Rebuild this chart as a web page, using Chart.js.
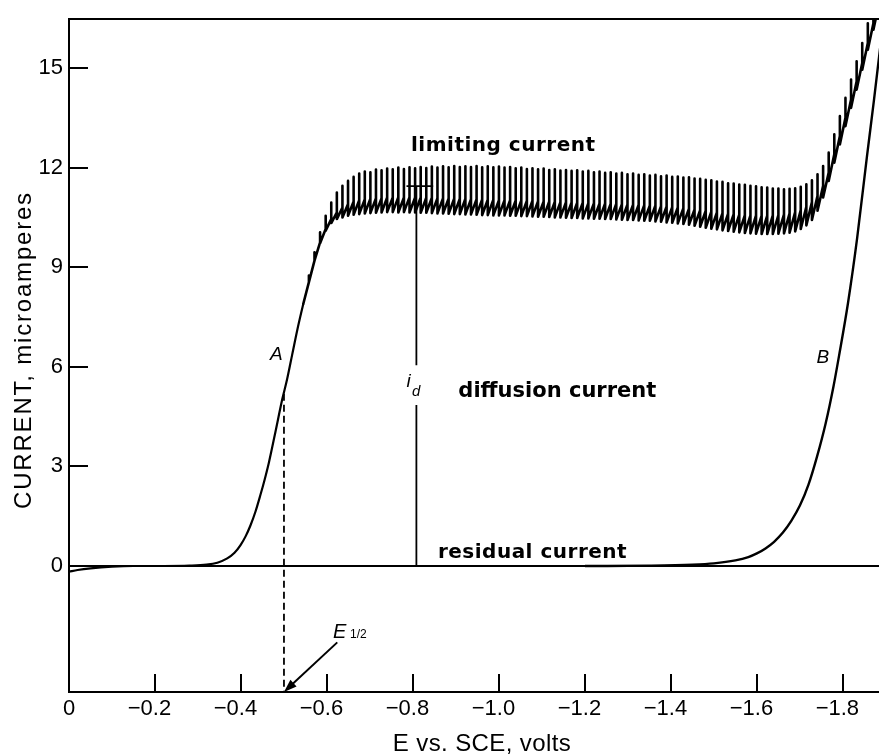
<!DOCTYPE html>
<html>
<head>
<meta charset="utf-8">
<script src="https://cdn.jsdelivr.net/npm/chart.js@4.4.1/dist/chart.umd.min.js"></script>
<style>
  html, body { margin: 0; padding: 0; background: #fff; }
  canvas { display: block; }
</style>
</head>
<body>
<canvas id="polarogram" width="879" height="756" style="width:879px;height:756px"></canvas>
<script>
// Polarogram: wave A of the reducible species (with dropping-mercury oscillations)
// and curve B of the supporting electrolyte alone.

const xTicks = [0, -0.2, -0.4, -0.6, -0.8, -1.0, -1.2, -1.4, -1.6, -1.8];
const yTicks = [0, 3, 6, 9, 12, 15];
const E_MIN = -1.884;
const I_MIN = -3.795;
const I_MAX = 16.47;

// wave A, smooth foot of the wave (volts, microamperes)
const waveE = [0, -0.02, -0.05, -0.10, -0.15, -0.22, -0.28, -0.32, -0.345, -0.368, -0.385, -0.399,
  -0.411, -0.422, -0.434, -0.445, -0.455, -0.465, -0.480, -0.496, -0.507, -0.519, -0.531, -0.545];
const waveI = [-0.17, -0.12, -0.07, -0.02, 0.0, 0.0, 0.01, 0.04, 0.10, 0.23, 0.40, 0.63,
  0.90, 1.22, 1.65, 2.13, 2.60, 3.12, 4.03, 5.02, 5.61, 6.36, 7.11, 7.90];

// wave A, one entry per mercury drop: potential at each drop fall,
// current at drop birth, at end of growth, and the pen spike
const dropE = [
  -0.545, -0.558, -0.571, -0.584, -0.597, -0.610, -0.623, -0.636, -0.649, -0.662,
  -0.675, -0.688, -0.701, -0.714, -0.727, -0.740, -0.753, -0.766, -0.779, -0.792,
  -0.805, -0.818, -0.831, -0.844, -0.857, -0.870, -0.883, -0.896, -0.909, -0.922,
  -0.935, -0.948, -0.961, -0.974, -0.987, -1.000, -1.013, -1.026, -1.039, -1.052,
  -1.065, -1.078, -1.091, -1.104, -1.117, -1.130, -1.143, -1.156, -1.169, -1.182,
  -1.195, -1.208, -1.221, -1.234, -1.247, -1.260, -1.273, -1.286, -1.299, -1.312,
  -1.325, -1.338, -1.351, -1.364, -1.377, -1.390, -1.403, -1.416, -1.429, -1.442,
  -1.455, -1.468, -1.481, -1.494, -1.507, -1.520, -1.533, -1.546, -1.559, -1.572,
  -1.585, -1.598, -1.611, -1.624, -1.637, -1.650, -1.663, -1.676, -1.689, -1.702,
  -1.715, -1.728, -1.741, -1.754, -1.767, -1.780, -1.793, -1.806, -1.819, -1.832,
  -1.845, -1.858, -1.871, -1.884];
const dropLow = [
  7.90, 8.55, 9.20, 9.72, 10.10, 10.33, 10.45, 10.50, 10.55, 10.58,
  10.60, 10.62, 10.63, 10.64, 10.65, 10.66, 10.66, 10.65, 10.66, 10.65,
  10.65, 10.64, 10.64, 10.63, 10.62, 10.62, 10.61, 10.60, 10.60, 10.59,
  10.59, 10.58, 10.57, 10.57, 10.56, 10.56, 10.56, 10.55, 10.55, 10.54,
  10.54, 10.53, 10.52, 10.52, 10.51, 10.50, 10.50, 10.49, 10.48, 10.48,
  10.47, 10.47, 10.46, 10.46, 10.45, 10.45, 10.44, 10.43, 10.42, 10.42,
  10.41, 10.40, 10.40, 10.38, 10.37, 10.35, 10.34, 10.32, 10.30, 10.28,
  10.25, 10.22, 10.19, 10.16, 10.14, 10.11, 10.09, 10.07, 10.05, 10.03,
  10.02, 10.01, 10.00, 10.00, 10.00, 10.01, 10.02, 10.04, 10.08, 10.15,
  10.26, 10.42, 10.70, 11.10, 11.60, 12.15, 12.70, 13.25, 13.80, 14.35,
  14.95, 15.55, 16.15];
const dropMid = [
  8.55, 9.20, 9.75, 10.15, 10.45, 10.65, 10.80, 10.90, 10.98, 11.02,
  11.05, 11.06, 11.08, 11.08, 11.10, 11.10, 11.11, 11.10, 11.11, 11.10,
  11.10, 11.09, 11.09, 11.08, 11.08, 11.07, 11.07, 11.06, 11.06, 11.05,
  11.05, 11.04, 11.03, 11.03, 11.02, 11.02, 11.02, 11.01, 11.01, 11.00,
  11.00, 10.99, 10.98, 10.98, 10.97, 10.96, 10.96, 10.95, 10.94, 10.94,
  10.93, 10.93, 10.92, 10.92, 10.91, 10.91, 10.90, 10.89, 10.88, 10.88,
  10.87, 10.86, 10.86, 10.84, 10.83, 10.81, 10.80, 10.78, 10.76, 10.74,
  10.72, 10.70, 10.67, 10.65, 10.63, 10.61, 10.60, 10.58, 10.57, 10.56,
  10.56, 10.55, 10.55, 10.56, 10.57, 10.59, 10.62, 10.66, 10.72, 10.82,
  10.96, 11.15, 11.45, 11.85, 12.40, 12.95, 13.50, 14.05, 14.60, 15.15,
  15.75, 16.35, 16.95];
const dropPeak = [
  8.75, 9.45, 10.05, 10.55, 10.95, 11.25, 11.45, 11.60, 11.72, 11.82,
  11.88, 11.86, 11.94, 11.92, 11.97, 11.95, 12.00, 11.96, 12.01, 11.98,
  12.02, 11.99, 12.03, 12.00, 12.04, 12.01, 12.05, 12.02, 12.04, 12.02,
  12.05, 12.01, 12.04, 12.01, 12.03, 12.00, 12.02, 11.98, 12.00, 11.96,
  11.98, 11.95, 11.97, 11.93, 11.95, 11.91, 11.93, 11.90, 11.92, 11.88,
  11.90, 11.86, 11.88, 11.84, 11.86, 11.82, 11.84, 11.80, 11.82, 11.78,
  11.80, 11.76, 11.78, 11.74, 11.76, 11.72, 11.73, 11.70, 11.71, 11.67,
  11.66, 11.63, 11.62, 11.58, 11.57, 11.53, 11.52, 11.49, 11.48, 11.45,
  11.44, 11.41, 11.40, 11.37, 11.37, 11.35, 11.36, 11.38, 11.42, 11.50,
  11.62, 11.80, 12.05, 12.45, 13.00, 13.55, 14.10, 14.65, 15.20, 15.75,
  16.35, 16.95, 17.55];

// curve B, supporting electrolyte
const blankE = [-1.20, -1.35, -1.45, -1.50, -1.55, -1.58, -1.60, -1.62, -1.64, -1.66,
  -1.68, -1.70, -1.72, -1.74, -1.76, -1.778, -1.792, -1.812, -1.833, -1.856, -1.872, -1.892];
const blankI = [0, 0.01, 0.04, 0.08, 0.17, 0.27, 0.38, 0.53, 0.73, 1.00,
  1.36, 1.82, 2.45, 3.30, 4.30, 5.40, 6.40, 7.93, 9.86, 12.34, 14.00, 16.20];

// zero-current line
const zeroE = [0, -1.884];
const zeroI = [0, 0];

// half-wave potential and the diffusion-current marker
const halfWaveE = -0.50;
const halfWaveI = 5.19;
const idE = -0.808;
const idTop = 11.44;
const idGap = [4.85, 6.05];
const idBarE = [-0.785, -0.847];

// ---- build point tables ----
const pts = (xs, ys) => xs.map((x, k) => ({ x, y: ys[k] }));

const dropTrace = [];
for (let k = 0; k < dropLow.length; k++) {
  dropTrace.push({ x: dropE[k], y: dropLow[k] });
  dropTrace.push({ x: dropE[k + 1], y: dropMid[k] });
  dropTrace.push({ x: dropE[k + 1], y: dropPeak[k] });
}

const trace = (data, extra) => Object.assign({
  data, showLine: true, fill: false, borderColor: '#000', backgroundColor: '#000',
  borderWidth: 2.2, pointRadius: 0, pointHoverRadius: 0, tension: 0
}, extra || {});

// ---- text and arrow drawn through the scales ----
const notes = [
  { text: 'limiting current', e: -1.010, i: 12.51, font: 'bold 20px "DejaVu Sans"', align: 'center', spacing: '0.5px' },
  { text: 'diffusion current', e: -0.9056, i: 5.10, font: 'bold 21px "DejaVu Sans"', align: 'left', spacing: '0px' },
  { text: 'residual current', e: -0.858, i: 0.25, font: 'bold 20px "DejaVu Sans"', align: 'left', spacing: '0.5px' },
  { text: 'A', e: -0.4676, i: 6.20, font: 'italic 19px "Liberation Sans"', align: 'left' },
  { text: 'B', e: -1.768, i: 6.12, font: 'italic 19px "Liberation Sans"', align: 'right' },
  { text: 'i', e: -0.785, i: 5.40, font: 'italic 19px "Liberation Sans"', align: 'left' },
  { text: 'd', e: -0.7977, i: 5.12, font: 'italic 15px "Liberation Sans"', align: 'left' },
  { text: 'E', e: -0.614, i: -2.16, font: 'italic 20px "Liberation Sans"', align: 'left' },
  { text: '1/2', e: -0.6535, i: -2.16, font: '12px "Liberation Sans"', align: 'left' }
];
const halfWaveArrow = { fromE: -0.624, fromI: -2.30, toE: -0.50, toI: I_MIN };
const titleFont = '24px "Liberation Sans", Arial, sans-serif';
const xTitle = { text: 'E vs. SCE, volts', cx: 482, cy: 744, spacing: '0.4px' };
const yTitle = { text: 'CURRENT, microamperes', cx: 24, cy: 350, spacing: '1.8px' };

const frameMarks = {
  id: 'frameMarks',
  beforeDatasetsDraw(chart) {
    const { ctx, chartArea: a, scales: { x, y } } = chart;
    ctx.save();
    ctx.strokeStyle = '#000';
    ctx.lineWidth = 2;
    ctx.beginPath();
    xTicks.forEach(v => {
      if (v === 0) return;
      const px = Math.round(x.getPixelForValue(v));
      ctx.moveTo(px, a.bottom);
      ctx.lineTo(px, a.bottom - 18);
    });
    yTicks.forEach(v => {
      const py = Math.round(y.getPixelForValue(v));
      ctx.moveTo(a.left, py);
      ctx.lineTo(a.left + 19, py);
    });
    ctx.stroke();
    ctx.restore();
  },
  afterDatasetsDraw(chart) {
    const { ctx, scales: { x, y } } = chart;
    const hasSpacing = 'letterSpacing' in ctx;
    ctx.save();
    ctx.fillStyle = '#000';
    ctx.textBaseline = 'alphabetic';
    notes.forEach(n => {
      ctx.font = n.font;
      ctx.textAlign = n.align;
      if (hasSpacing) ctx.letterSpacing = n.spacing || '0px';
      ctx.fillText(n.text, x.getPixelForValue(n.e), y.getPixelForValue(n.i));
    });

    // axis titles
    ctx.font = titleFont;
    ctx.textAlign = 'center';
    ctx.textBaseline = 'middle';
    if (hasSpacing) ctx.letterSpacing = xTitle.spacing;
    ctx.fillText(xTitle.text, xTitle.cx, xTitle.cy);
    ctx.save();
    ctx.translate(yTitle.cx, yTitle.cy);
    ctx.rotate(-Math.PI / 2);
    if (hasSpacing) ctx.letterSpacing = yTitle.spacing;
    ctx.fillText(yTitle.text, 0, 0);
    ctx.restore();
    if (hasSpacing) ctx.letterSpacing = '0px';

    // arrow pointing at the half-wave potential
    const x0 = x.getPixelForValue(halfWaveArrow.fromE), y0 = y.getPixelForValue(halfWaveArrow.fromI);
    const x1 = x.getPixelForValue(halfWaveArrow.toE), y1 = y.getPixelForValue(halfWaveArrow.toI);
    const ang = Math.atan2(y1 - y0, x1 - x0);
    const c = Math.cos(ang), s = Math.sin(ang);
    ctx.strokeStyle = '#000';
    ctx.lineWidth = 2;
    ctx.beginPath();
    ctx.moveTo(x0, y0);
    ctx.lineTo(x1 - 8 * c, y1 - 8 * s);
    ctx.stroke();
    ctx.beginPath();
    ctx.moveTo(x1, y1);
    ctx.lineTo(x1 - 13 * c + 4.5 * s, y1 - 13 * s - 4.5 * c);
    ctx.lineTo(x1 - 13 * c - 4.5 * s, y1 - 13 * s + 4.5 * c);
    ctx.closePath();
    ctx.fill();
    ctx.restore();
  }
};

const axisFont = { family: '"Liberation Sans", Arial, Helvetica, sans-serif', size: 22 };

new Chart(document.getElementById('polarogram'), {
  type: 'scatter',
  data: {
    datasets: [
      trace(pts(zeroE, zeroI)),
      trace(pts(blankE, blankI), { cubicInterpolationMode: 'monotone', borderWidth: 2.4 }),
      trace(pts(waveE, waveI), { cubicInterpolationMode: 'monotone' }),
      trace(dropTrace, { borderWidth: 2.6, borderJoinStyle: 'round', borderCapStyle: 'round' }),
      trace([{ x: idE, y: 0 }, { x: idE, y: idGap[0] }], { borderWidth: 1.8 }),
      trace([{ x: idE, y: idGap[1] }, { x: idE, y: idTop }], { borderWidth: 1.8 }),
      trace([{ x: idBarE[0], y: idTop }, { x: idBarE[1], y: idTop }], { borderWidth: 1.8 }),
      trace([{ x: halfWaveE, y: halfWaveI }, { x: halfWaveE, y: I_MIN }], { borderWidth: 1.8, borderDash: [7, 4] })
    ]
  },
  options: {
    responsive: false,
    animation: false,
    devicePixelRatio: 1,
    layout: { padding: { top: 11, right: 0, bottom: 0, left: 0 } },
    plugins: { legend: { display: false }, tooltip: { enabled: false } },
    events: [],
    scales: {
      x: {
        type: 'linear', position: 'bottom', reverse: true, min: E_MIN, max: 0,
        grid: { display: false, drawTicks: false },
        border: { display: true, color: '#000', width: 2 },
        afterBuildTicks: s => { s.ticks = xTicks.map(v => ({ value: v })); },
        afterFit: s => { s.height = 64; },
        ticks: {
          color: '#000', padding: 4, maxRotation: 0, autoSkip: false, font: axisFont,
          callback: v => (v === 0 ? '0' : '\u2212' + Math.abs(v).toFixed(1) + '\u2002')
        },
        title: { display: false }
      },
      frameTop: {
        type: 'linear', axis: 'x', position: 'top', min: 0, max: 1,
        grid: { display: false, drawTicks: false },
        border: { display: true, color: '#000', width: 2 },
        ticks: { display: false },
        afterFit: s => { s.height = 0; }
      },
      y: {
        type: 'linear', position: 'left', min: I_MIN, max: I_MAX,
        grid: { display: false, drawTicks: false },
        border: { display: true, color: '#000', width: 2 },
        afterBuildTicks: s => { s.ticks = yTicks.map(v => ({ value: v })); },
        afterFit: s => { s.width = 69; },
        ticks: { color: '#000', padding: 6, autoSkip: false, font: axisFont, callback: v => String(v) },
        title: { display: false }
      }
    }
  },
  plugins: [frameMarks]
});
</script>
</body>
</html>
